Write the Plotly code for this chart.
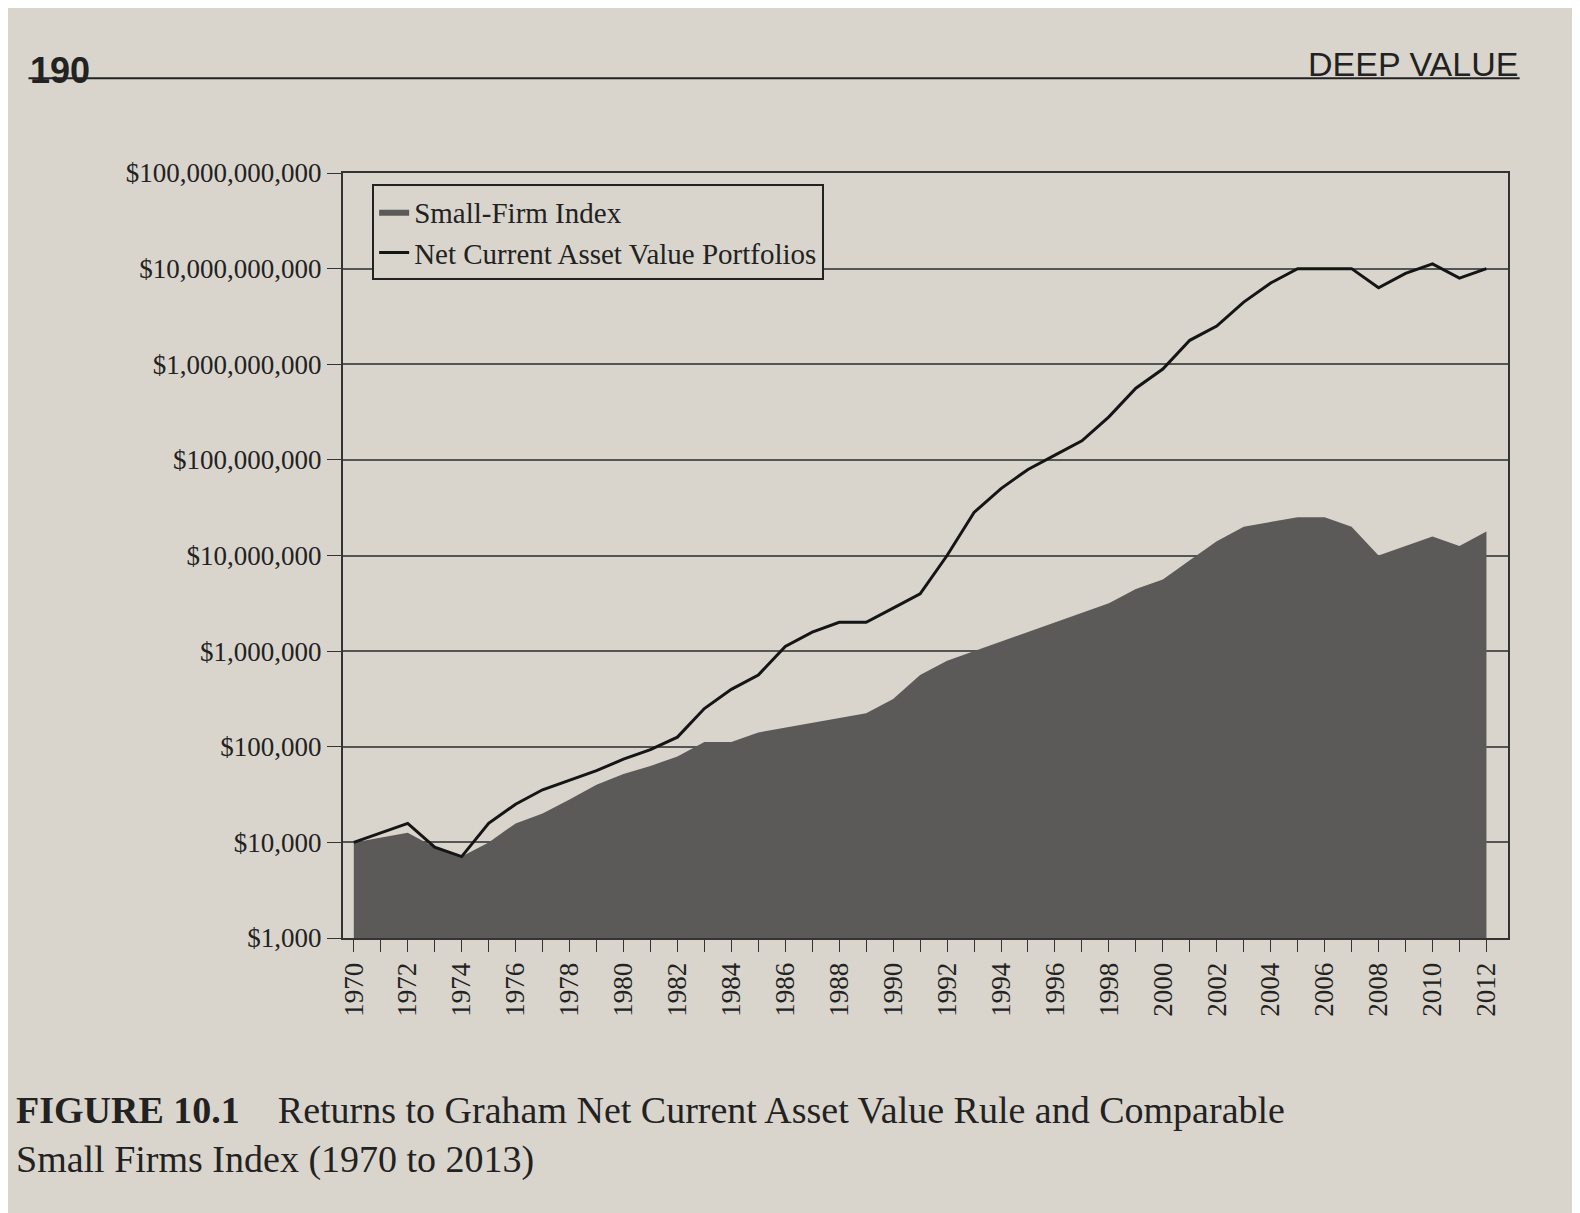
import plotly.graph_objects as go

years = list(range(1970, 2013))
small_firm = [10000, 11200, 12600, 8900, 7100, 10000, 15800, 20000, 28000, 40000,
              52000, 63000, 79000, 112000, 112000, 141000, 158000, 178000, 200000, 224000,
              316000, 562000, 794000, 1000000, 1260000, 1580000, 2000000, 2510000, 3160000, 4470000,
              5620000, 8910000, 14100000, 20000000, 22400000, 25100000, 25100000, 20000000, 10000000, 12600000,
              15800000, 12600000, 17800000]
ncav = [10000, 12600, 15800, 8900, 7100, 15800, 25100, 35500, 44700, 56200,
        74100, 93300, 126000, 251000, 398000, 562000, 1120000, 1580000, 2000000, 2000000,
        2820000, 3980000, 10000000, 28200000, 50100000, 79400000, 112000000, 158000000, 282000000, 562000000,
        891000000, 1780000000, 2510000000, 4470000000, 7080000000, 10000000000, 10000000000, 10000000000, 6310000000, 8910000000,
        11200000000, 7940000000, 10000000000]
tick_vals = [1e3, 1e4, 1e5, 1e6, 1e7, 1e8, 1e9, 1e10, 1e11]
tick_text = ["$1,000", "$10,000", "$100,000", "$1,000,000", "$10,000,000", "$100,000,000",
             "$1,000,000,000", "$10,000,000,000", "$100,000,000,000"]
x_labels = [str(y) if y % 2 == 0 else "" for y in years]

bg = "#d9d5cd"
font = dict(family="Liberation Serif", size=27, color="#222")
fig = go.Figure()
fig.add_trace(go.Scatter(x=years, y=[1000] * len(years), mode="lines", line=dict(width=0),
                         showlegend=False, hoverinfo="skip"))
fig.add_trace(go.Scatter(x=years, y=small_firm, mode="lines", fill="tonexty", fillcolor="#5c5a58",
                         line=dict(width=0, color="#5c5a58"), name="Small-Firm Index"))
fig.add_trace(go.Scatter(x=years, y=ncav, mode="lines", line=dict(color="#151515", width=3),
                         name="Net Current Asset Value Portfolios"))
fig.update_layout(
    width=1580, height=1213, paper_bgcolor=bg, plot_bgcolor=bg, font=font,
    margin=dict(l=335, r=80, t=165, b=283),
    legend=dict(x=0.025, y=0.985, bgcolor=bg, bordercolor="#222", borderwidth=2,
                font=dict(size=29), traceorder="normal"),
    xaxis=dict(range=[1969.6, 2012.8], tickvals=years, ticktext=x_labels, tickangle=-90,
               ticks="outside", ticklen=12, tickcolor="#333", showgrid=False,
               showline=True, linecolor="#333", linewidth=2, mirror=True),
    yaxis=dict(type="log", range=[3, 11], tickvals=tick_vals, ticktext=tick_text,
               ticks="outside", ticklen=14, tickcolor="#333", gridcolor="#555", gridwidth=1.5,
               showline=True, linecolor="#333", linewidth=2, mirror=True),
)
fig.add_annotation(x=-0.27, y=1.163, xref="paper", yref="paper", text="<b>190</b>", showarrow=False,
                   font=dict(family="Liberation Sans Narrow, Liberation Sans", size=36), xanchor="left")
fig.add_annotation(x=1.01, y=1.17, xref="paper", yref="paper", text="DEEP VALUE", showarrow=False,
                   font=dict(family="Liberation Sans Narrow, Liberation Sans", size=34), xanchor="right")
fig.add_shape(type="line", xref="paper", yref="paper", x0=-0.27, x1=1.01, y0=1.124, y1=1.124,
              line=dict(color="#222", width=2))
fig.add_annotation(x=-0.282, y=-0.195, xref="paper", yref="paper", xanchor="left", yanchor="top",
                   align="left", showarrow=False,
                   text="<b>FIGURE 10.1</b>    Returns to Graham Net Current Asset Value Rule and Comparable<br>Small Firms Index (1970 to 2013)",
                   font=dict(family="Liberation Serif", size=38, color="#222"))
fig.write_html("out.html")
